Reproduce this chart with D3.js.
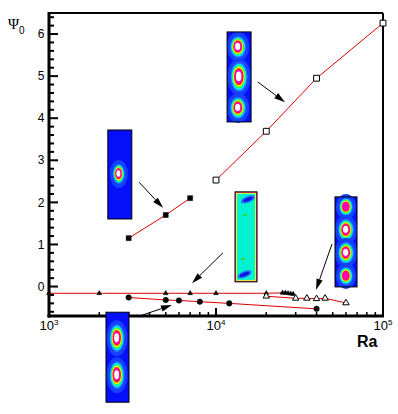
<!DOCTYPE html>
<html>
<head>
<meta charset="utf-8">
<script src="https://cdn.jsdelivr.net/npm/d3@7"></script>
<style>
	body { margin: 0; background: #fff; }
	svg { display: block; }
	text { font-family: 'Liberation Sans', Arial, sans-serif; fill: #000; }
</style>
</head>
<body>
<svg id="chart"></svg>
<script>
// one vortex (filled squares)
const raOne = [3000, 5000, 7000];
const psiOne = [1.15, 1.70, 2.10];
// three vortices (open squares)
const raThree = [10000, 20000, 40000, 100000];
const psiThree = [2.53, 3.69, 4.95, 6.26];
// near conduction branch (small filled triangles)
const raCond = [1000, 2000, 5000, 7000, 10000, 20000, 25000, 26000, 27000, 28000, 29000];
const psiCond = [-0.16, -0.16, -0.16, -0.16, -0.16, -0.16, -0.15, -0.15, -0.16, -0.17, -0.18];
// four vortices (open triangles)
const raFour = [20000, 30000, 35000, 40000, 45000, 60000];
const psiFour = [-0.23, -0.28, -0.28, -0.29, -0.28, -0.39];
// two vortices (filled circles)
const raTwo = [3000, 5000, 6000, 8000, 12000, 40000];
const psiTwo = [-0.26, -0.32, -0.33, -0.36, -0.40, -0.53];

const yMajor = [0, 1, 2, 3, 4, 5, 6];
const xMajorExp = [3, 4, 5];

// arrows, tail -> head, in (Ra, psi)
const arrows = [
	[[3460, 2.48], [4820, 1.87]],
	[[17800, 4.86], [25900, 4.38]],
	[[11000, 0.80], [7180, 0.08]],
	[[49500, 1.01], [39700, -0.08]],
	[[3610, -0.68], [5450, -0.44]]
];

const config = {
	width: 398,
	height: 414,
	plot: { left: 49, right: 383, top: 13, bottom: 316 },
	red: '#dd0000',
	blue: '#0510f8',
	bands: ['#2a70ff', '#00e8ff', '#1eff5a', '#f2ff00', '#ff1e28', '#ff00b8', '#ffffff'],
	bandScale: [1, 0.88, 0.77, 0.67, 0.57, 0.47, 0.32]
};

// contour-plot insets, anchored at (Ra, psi) of their top-left corner
const insets = [
	{ ra: 2250, psi: 3.72, w: 24, h: 89, vortices: [[11, 44, 6, 10, 1]] },
	{ ra: 11650, psi: 6.05, w: 24, h: 90, vortices: [[11, 15, 8, 11, 1], [12, 45, 8.5, 15, 1], [11, 76, 8, 11, 1]] },
	{ ra: 51600, psi: 2.13, w: 22, h: 90, vortices: [[11, 10, 7, 9, 0], [11, 33, 8, 11, 1], [11, 56, 8, 11, 1], [11, 79, 7, 9, 0]] },
	{ ra: 2194, psi: -0.61, w: 23, h: 90, vortices: [[11, 26, 7.5, 14, 1], [11, 63, 7.5, 14, 1]] }
];
const flatInset = { ra: 13000, psi: 2.25, w: 22, h: 90 };

function drawVortex(g, cx, cy, rx, ry, strong) {
	const n = strong ? config.bands.length : config.bands.length - 1;
	for (let i = 0; i < n; i++) {
		const s = config.bandScale[i];
		g.append('ellipse')
			.attr('cx', cx - (1 - s) * 0.6)
			.attr('cy', cy - (1 - s) * 0.8)
			.attr('rx', rx * s)
			.attr('ry', ry * s)
			.attr('fill', config.bands[i]);
	}
}

function drawArrow(g, x1, y1, x2, y2) {
	const a = Math.atan2(y2 - y1, x2 - x1);
	const L = 11, W = 3.2;
	const bx = x2 - L * Math.cos(a), by = y2 - L * Math.sin(a);
	g.append('line')
		.attr('x1', x1).attr('y1', y1)
		.attr('x2', bx).attr('y2', by)
		.attr('stroke', '#000').attr('stroke-width', 1);
	g.append('path')
		.attr('d', `M${x2},${y2}L${bx - W * Math.sin(a)},${by + W * Math.cos(a)}L${bx + W * Math.sin(a)},${by - W * Math.cos(a)}Z`)
		.attr('fill', '#000');
}

function drawSeries(g, x, y, ra, psi, symbol, size, filled, withLine) {
	const pts = ra.map((r, i) => [x(r), y(psi[i])]);
	if (withLine) {
		g.append('path')
			.attr('d', d3.line()(pts))
			.attr('fill', 'none')
			.attr('stroke', config.red)
			.attr('stroke-width', 1);
	}
	g.append('g')
		.selectAll('path')
		.data(pts)
		.enter()
		.append('path')
		.attr('d', d3.symbol(symbol, size))
		.attr('transform', d => `translate(${d[0]},${d[1]})`)
		.attr('fill', filled ? '#000' : '#fff')
		.attr('stroke', '#000')
		.attr('stroke-width', filled ? 0.5 : 1);
}

const svg = d3.select('#chart')
	.attr('width', config.width)
	.attr('height', config.height);
svg.append('rect').attr('width', config.width).attr('height', config.height).attr('fill', '#fff');

const p = config.plot;
const x = d3.scaleLog().domain([1e3, 1e5]).range([p.left, p.right]);
const y = d3.scaleLinear().domain([-0.7, 6.5]).range([p.bottom, p.top]);

// minor ticks
const yMinor = d3.range(-6, 65, 2).map(v => v / 10).filter(v => !yMajor.includes(v));
const xMinor = [];
[1e3, 1e4].forEach(d => { for (let k = 2; k < 10; k++) xMinor.push(d * k); });

const axes = svg.append('g');
axes.selectAll('.ymin').data(yMinor).enter().append('line')
	.attr('x1', p.left).attr('x2', p.left + 5)
	.attr('y1', d => y(d)).attr('y2', d => y(d))
	.attr('stroke', '#000').attr('stroke-width', 2);
axes.selectAll('.ymaj').data(yMajor).enter().append('line')
	.attr('x1', p.left).attr('x2', p.left + 9)
	.attr('y1', d => y(d)).attr('y2', d => y(d))
	.attr('stroke', '#000').attr('stroke-width', 2);
axes.selectAll('.ylab').data(yMajor).enter().append('text')
	.attr('x', p.left - 4.5)
	.attr('y', d => y(d))
	.attr('dy', '0.35em')
	.attr('text-anchor', 'end')
	.style('font-size', '12px')
	.text(d => d);

axes.selectAll('.xmin').data(xMinor).enter().append('line')
	.attr('x1', d => x(d)).attr('x2', d => x(d))
	.attr('y1', p.bottom).attr('y2', p.bottom - 4)
	.attr('stroke', '#000').attr('stroke-width', 1.5);
axes.selectAll('.xmaj').data(xMajorExp).enter().append('line')
	.attr('x1', d => x(Math.pow(10, d))).attr('x2', d => x(Math.pow(10, d)))
	.attr('y1', p.bottom).attr('y2', p.bottom - 8)
	.attr('stroke', '#000').attr('stroke-width', 2);
const xl = axes.selectAll('.xlab').data(xMajorExp).enter().append('text')
	.attr('x', d => x(Math.pow(10, d)))
	.attr('y', 330)
	.attr('text-anchor', 'middle')
	.style('font-size', '13px');
xl.append('tspan').text('10');
xl.append('tspan').attr('dy', -5).style('font-size', '8px').text(d => d);

// frame
axes.append('line').attr('x1', p.left).attr('x2', p.right).attr('y1', p.top).attr('y2', p.top)
	.attr('stroke', '#000').attr('stroke-width', 2);
axes.append('line').attr('x1', p.right).attr('x2', p.right).attr('y1', p.top).attr('y2', p.bottom)
	.attr('stroke', '#000').attr('stroke-width', 2);
axes.append('line').attr('x1', p.left).attr('x2', p.left).attr('y1', p.top - 1).attr('y2', p.bottom + 1.5)
	.attr('stroke', '#000').attr('stroke-width', 3);
axes.append('line').attr('x1', p.left - 1.5).attr('x2', p.right + 1).attr('y1', p.bottom).attr('y2', p.bottom)
	.attr('stroke', '#000').attr('stroke-width', 3);

// axis titles
const psiLab = svg.append('text').attr('x', 8).attr('y', 29);
psiLab.append('tspan').style('font-family', "'Liberation Serif', serif").style('font-size', '15px').text('\u03A8');
psiLab.append('tspan').attr('dy', 5).style('font-size', '10px').text('0');
svg.append('text')
	.attr('x', 357).attr('y', 347)
	.style('font-size', '16px')
	.style('font-weight', 'bold')
	.text('Ra');

// data
const data = svg.append('g');
drawSeries(data, x, y, raCond, psiCond, d3.symbolTriangle, 10, true, true);
drawSeries(data, x, y, raFour, psiFour, d3.symbolTriangle, 18, false, true);
drawSeries(data, x, y, raTwo, psiTwo, d3.symbolCircle, 24, true, true);
drawSeries(data, x, y, raOne, psiOne, d3.symbolSquare, 25, true, true);
drawSeries(data, x, y, raThree, psiThree, d3.symbolSquare, 34, false, true);

// arrows
const ann = svg.append('g');
arrows.forEach(([t, h]) => drawArrow(ann, x(t[0]), y(t[1]), x(h[0]), y(h[1])));

// insets
insets.forEach(ins => {
	const g = svg.append('g').attr('transform', `translate(${x(ins.ra)},${y(ins.psi)})`);
	g.append('rect').attr('width', ins.w).attr('height', ins.h).attr('fill', config.blue);
	ins.vortices.forEach(v => {
		g.append('ellipse').attr('cx', v[0]).attr('cy', v[1]).attr('rx', v[2] + 3).attr('ry', v[3] + 4).attr('fill', '#1440ff');
		drawVortex(g, v[0], v[1], v[2], v[3], v[4]);
	});
	g.append('rect').attr('width', ins.w).attr('height', ins.h)
		.attr('fill', 'none').attr('stroke', '#000').attr('stroke-width', 1);
});

{
	const ins = flatInset;
	const g = svg.append('g').attr('transform', `translate(${x(ins.ra)},${y(ins.psi)})`);
	g.append('rect').attr('width', ins.w).attr('height', ins.h).attr('fill', '#ff2a78');
	g.append('rect').attr('x', 1).attr('y', 1).attr('width', ins.w - 2).attr('height', ins.h - 2).attr('fill', '#d8ff40');
	g.append('rect').attr('x', 2).attr('y', 2).attr('width', ins.w - 4).attr('height', ins.h - 4).attr('fill', '#00f2d2');
	[[13, 7.5, -22], [9.5, 82.5, -22]].forEach(b => {
		g.append('ellipse').attr('cx', b[0]).attr('cy', b[1]).attr('rx', 7.5).attr('ry', 3.2)
			.attr('transform', `rotate(${b[2]},${b[0]},${b[1]})`).attr('fill', '#2a6cff');
		g.append('ellipse').attr('cx', b[0]).attr('cy', b[1]).attr('rx', 5).attr('ry', 1.8)
			.attr('transform', `rotate(${b[2]},${b[0]},${b[1]})`).attr('fill', '#0a18e0');
	});
	[[10, 23], [8, 67]].forEach(s => {
		g.append('ellipse').attr('cx', s[0]).attr('cy', s[1]).attr('rx', 2.5).attr('ry', 1.2).attr('fill', '#30e040');
	});
	g.append('rect').attr('width', ins.w).attr('height', ins.h)
		.attr('fill', 'none').attr('stroke', '#000').attr('stroke-width', 1);
}
</script>
</body>
</html>
